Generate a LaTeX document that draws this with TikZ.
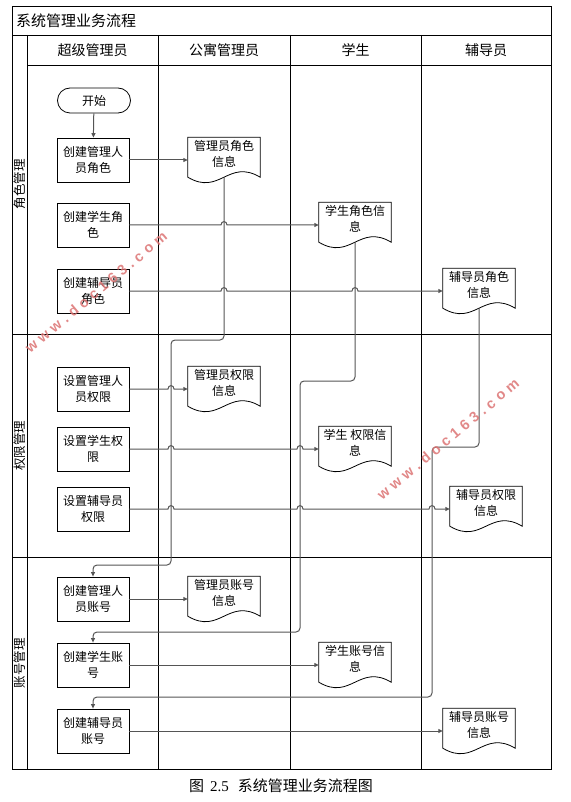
\documentclass[tikz,border=0pt]{standalone}
\usepackage{fontspec}
\setmainfont{Noto Sans CJK SC}
\newfontfamily\serifrm{Liberation Serif}
\newfontfamily\wmfont{Liberation Sans}
\usetikzlibrary{arrows.meta,shapes.misc,calc}
\definecolor{conncol}{RGB}{85,85,85}
\definecolor{wmcol}{RGB}{220,115,115}
\newcommand\hop[2]{-- (#1-3,#2) .. controls (#1-3,#2-4.5) and (#1+3,#2-4.5) .. (#1+3,#2)}
\newcommand\docoutline[1]{\draw[line width=0.8pt] (#1.north west) -- (#1.north east) -- ([yshift=5.5pt]#1.south east) .. controls ([xshift=-32pt,yshift=24.5pt]#1.south east) and ([xshift=32pt,yshift=-13.5pt]#1.south west) .. ([yshift=5.5pt]#1.south west) -- cycle;}
\newcommand\wmtext{\wmfont\bfseries w\kern4.5pt w\kern4.5pt w\kern4.5pt .\kern4.5pt d\kern4.5pt o\kern4.5pt c\kern4.5pt 1\kern4.5pt 6\kern4.5pt 3\kern4.5pt .\kern4.5pt c\kern4.5pt o\kern4.5pt m}
\tikzset{
  frame/.style={draw=black, line width=0.8pt},
  procbox/.style={draw=black, line width=0.8pt, minimum width=72pt, minimum height=44pt, inner sep=0pt, align=center, font=\fontsize{12}{15.5}\selectfont},
  startbox/.style={rounded rectangle, draw=black, line width=0.8pt, minimum width=73pt, minimum height=25pt, inner sep=0pt, font=\fontsize{12}{14}\selectfont},
  docbox/.style={minimum width=72pt, minimum height=45pt, inner sep=0pt},
  doctext/.style={anchor=north, align=center, inner sep=0pt, font=\fontsize{12}{15.5}\selectfont},
  conn/.style={draw=conncol, line width=1pt},
  arr/.style={-{Triangle[length=4.5pt,width=4pt]}},
  headtext/.style={font=\fontsize{14}{16}\selectfont, inner sep=0pt},
  lanetext/.style={font=\fontsize{12.5}{14}\selectfont, rotate=90, inner sep=0pt},
  wm/.style={text=wmcol, font=\fontsize{14.5}{16}\selectfont, inner sep=0pt, opacity=0.85}
}
\begin{document}
\begin{tikzpicture}[x=1pt,y=-1pt]
\useasboundingbox (0,0) rectangle (570,802);
% frame
\draw[frame] (12,6) rectangle (551,769);
\draw[frame] (12,35) -- (551,35);
\draw[frame] (27,35) -- (27,769);
\draw[frame] (27,65) -- (551,65);
\foreach \x in {158,290,421} \draw[frame] (\x,35) -- (\x,769);
\draw[frame] (12,334) -- (551,334);
\draw[frame] (12,557) -- (551,557);
% titles
\node[anchor=west, font=\fontsize{15}{17}\selectfont, inner sep=0pt] (title) at (16,21) {系统管理业务流程};
\node[headtext] (h1) at (92.5,50) {超级管理员};
\node[headtext] (h2) at (224,50) {公寓管理员};
\node[headtext] (h3) at (355.5,50) {学生};
\node[headtext] (h4) at (486,50) {辅导员};
\node[lanetext] (l1) at (19.5,184.5) {角色管理};
\node[lanetext] (l2) at (19.5,445.5) {权限管理};
\node[lanetext] (l3) at (19.5,663) {账号管理};
% nodes
\node[startbox] (start) at (94,100.5) {开始};
\node[procbox] (b1) at (93,160) {创建管理人\\员角色};
\node[procbox] (b2) at (93,225) {创建学生角\\色};
\node[procbox] (b3) at (93,291) {创建辅导员\\角色};
\node[procbox] (b4) at (93,389) {设置管理人\\员权限};
\node[procbox] (b5) at (93,449) {设置学生权\\限};
\node[procbox] (b6) at (93,509) {设置辅导员\\权限};
\node[procbox] (b7) at (93,599) {创建管理人\\员账号};
\node[procbox] (b8) at (93,665) {创建学生账\\号};
\node[procbox] (b9) at (93,731) {创建辅导员\\账号};
% documents
\node[docbox] (d1) at (224,160) {};
\node[docbox] (d2) at (355,225) {};
\node[docbox] (d3) at (479,291) {};
\node[docbox] (d4) at (224,389) {};
\node[docbox] (d5) at (355,449) {};
\node[docbox] (d6) at (486,509) {};
\node[docbox] (d7) at (224,599) {};
\node[docbox] (d8) at (355,665) {};
\node[docbox] (d9) at (479,731) {};
\foreach \d in {d1,d2,d3,d4,d5,d6,d7,d8,d9} {\docoutline{\d}}
\node[doctext] (t1) at ([yshift=-3pt]d1.north) {管理员角色\\信息};
\node[doctext] (t2) at ([yshift=-3pt]d2.north) {学生角色信\\息};
\node[doctext] (t3) at ([yshift=-3pt]d3.north) {辅导员角色\\信息};
\node[doctext] (t4) at ([yshift=-3pt]d4.north) {管理员权限\\信息};
\node[doctext] (t5) at ([yshift=-3pt]d5.north) {学生 权限信\\息};
\node[doctext] (t6) at ([yshift=-3pt]d6.north) {辅导员权限\\信息};
\node[doctext] (t7) at ([yshift=-3pt]d7.north) {管理员账号\\信息};
\node[doctext] (t8) at ([yshift=-3pt]d8.north) {学生账号信\\息};
\node[doctext] (t9) at ([yshift=-3pt]d9.north) {辅导员账号\\信息};
% connectors
\draw[conn,arr] (start) -- (b1);
\draw[conn,arr] (b1) -- (d1);
\draw[conn,arr] (b2.east) \hop{224}{225} -- (d2.west);
\draw[conn,arr] (b3.east) \hop{224}{291} \hop{355}{291} -- (d3.west);
\draw[conn,arr] (b4.east) \hop{171}{389} -- (d4.west);
\draw[conn,arr] (b5.east) \hop{171}{449} \hop{300}{449} -- (d5.west);
\draw[conn,arr] (b6.east) \hop{171}{509} \hop{300}{509} \hop{432}{509} -- (d6.west);
\draw[conn,arr] (b7) -- (d7);
\draw[conn,arr] (b8) -- (d8);
\draw[conn,arr] (b9) -- (d9);
\draw[conn,arr,rounded corners=4pt] ([yshift=5.5pt]d1.south) -- (224,340) -- (171,340) -- (171,565) -- (93,565) -- (b7.north);
\draw[conn,arr,rounded corners=4pt] ([yshift=5.5pt]d2.south) -- (355,381) -- (300,381) -- (300,632) -- (93,632) -- (b8.north);
\draw[conn,arr,rounded corners=4pt] ([yshift=5.5pt]d3.south) -- (479,447) -- (432,447) -- (432,697) -- (93,697) -- (b9.north);
% watermarks
\node[wm, rotate=40] (wm1) at (96,292) {\wmtext};
\node[wm, rotate=40] (wm2) at (448,439) {\wmtext};
% caption
\node[font=\fontsize{15}{17}\selectfont, inner sep=0pt] (cap) at (281,786) {图\hspace{6pt}{\serifrm 2.5}\hspace{9pt}系统管理业务流程图};
\end{tikzpicture}
\end{document}
